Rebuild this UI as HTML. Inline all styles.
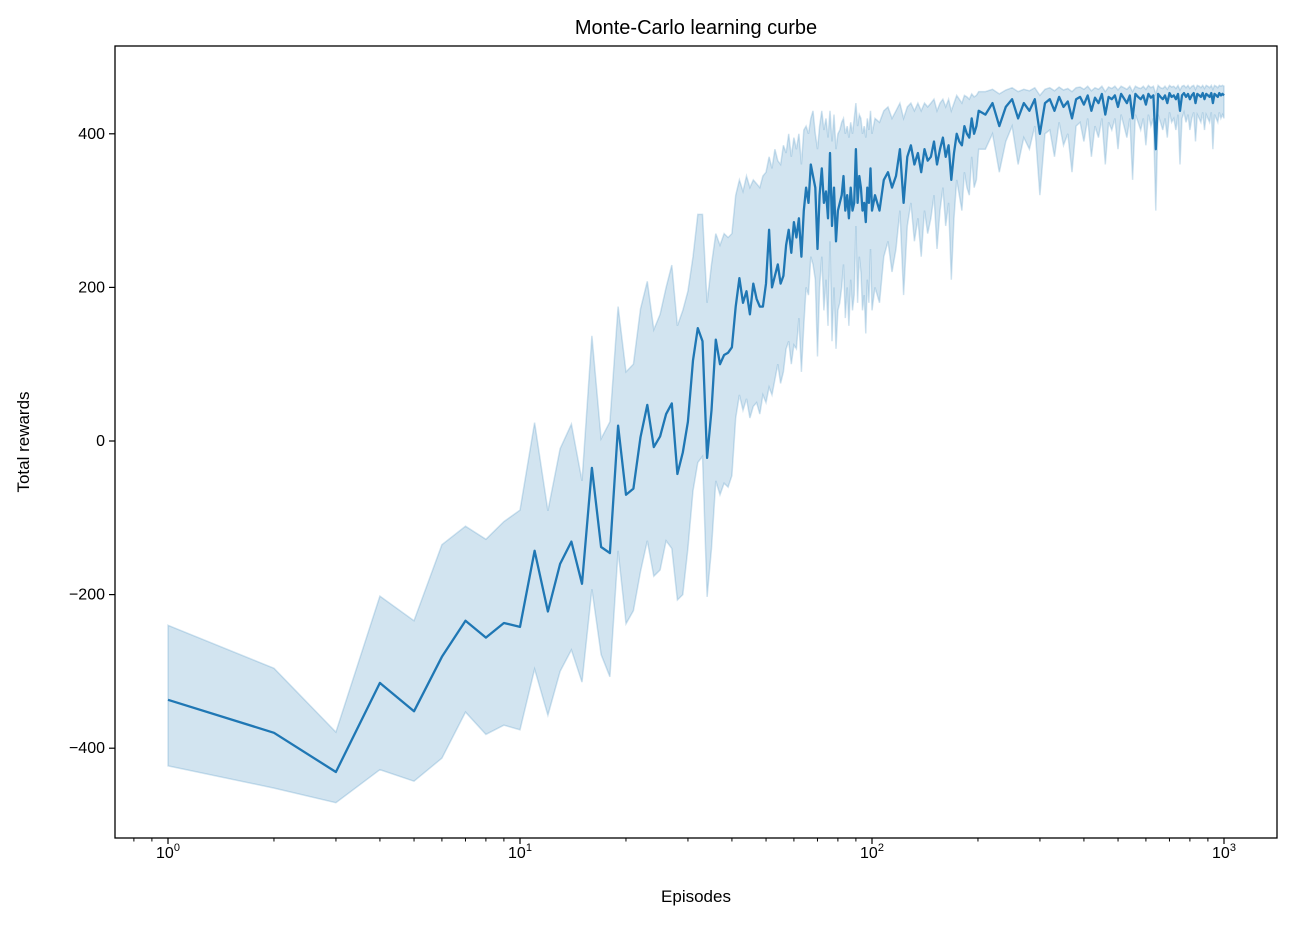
<!DOCTYPE html>
<html><head><meta charset="utf-8"><style>
html,body{margin:0;padding:0;background:#fff;}
svg text{font-family:"Liberation Sans","DejaVu Sans",sans-serif;fill:#000;}
</style></head><body>
<svg id="chart" width="1292" height="922" xmlns="http://www.w3.org/2000/svg">
<rect x="0" y="0" width="1292" height="922" fill="#fff"/>
<text x="696" y="34" font-size="20" text-anchor="middle">Monte-Carlo learning curbe</text>
<g id="band"></g>
<g id="line"></g>
<g id="axes"></g>
<text x="696" y="902" font-size="17" text-anchor="middle">Episodes</text>
<text x="0" y="0" font-size="17" text-anchor="middle" transform="translate(29,442) rotate(-90)">Total rewards</text>
</svg>
<script>
const meanEarly=[-337,-380,-431,-315,-352,-281,-234,-256,-237,-242,-143,-222,-160,-131,-186,-35,-138,-146,20,-70,-62,5,47,-8,6,35,49,-43,-15,25,105,147,130,-22,40,132,100,112,115,122,175,212,180,195,165,205,185,175,175,205,275,200,215,230,205,215,255,275,245,285];
const hiEarly=[-240,-296,-379,-202,-234,-135,-111,-128,-105,-90,24,-91,-10,22,-52,137,3,25,175,90,100,172,208,145,165,200,229,150,170,195,240,295,295,180,230,270,255,270,265,270,320,340,325,345,330,340,335,330,345,350,370,355,380,365,360,385,375,400,370,395];
const loEarly=[-423,-452,-471,-428,-443,-413,-353,-382,-370,-376,-297,-357,-300,-272,-314,-193,-278,-307,-143,-238,-221,-170,-130,-176,-168,-130,-140,-207,-200,-140,-65,-28,-20,-203,-140,-52,-70,-55,-60,-45,30,60,40,55,30,45,50,35,60,50,70,60,80,100,75,90,120,130,100,125];
const meanMid=[265,290,240,300,330,310,360,345,330,250,320,355,310,325,290,375,280,330,260,300,310,320,345,300,320,290,330,300,310,380,310,345,330,300,310,285,330,310,355,300];
const hiMid=[380,400,360,405,410,400,420,430,400,380,410,430,405,420,395,430,390,425,380,400,405,415,420,400,410,395,415,400,420,440,410,425,420,400,410,395,420,405,430,400];
const loMid=[120,160,90,150,200,190,240,230,210,110,200,240,170,210,150,260,130,200,120,170,180,200,230,160,200,150,210,170,190,280,180,240,220,170,190,140,210,180,250,170];
const meanLate1=[320,300,340,350,330,345,380,310,370,385,360,375,350,380,365,370,390,360,380,395,370,385,340,375,400,390,385,410,400,395,420,400,410,430];
const hiLate1=[420,415,430,435,420,430,440,420,435,440,430,440,430,440,435,440,445,430,440,445,435,445,430,440,450,445,440,450,448,445,452,448,450,455];
const loLate1=[200,180,240,260,220,250,300,190,280,310,260,290,240,300,270,290,320,250,300,330,280,310,210,290,340,320,300,350,330,320,370,330,340,380];
const meanLate2=[425,440,410,435,445,420,440,430,445,400,440,445,430,448,435,442,420,445,448,438,450,430,447,440,452,425,448,445,450,435,452,446,440,450,420,452,448,445,450,438,452,447,450,380,452,448,445,450,440,453,448,450,445,452,430,450,453,448,452,445,450,453,440,452,450,448,453,445,452,450,448,453,440,452,450,448,453,450,452,450];
const hiLate2=[455,458,452,457,460,455,458,456,460,450,458,460,456,461,457,459,455,460,461,458,462,456,460,458,462,455,461,459,462,457,462,460,458,462,455,462,460,459,462,458,463,460,462,452,463,460,459,462,458,463,461,462,459,463,457,462,463,460,463,459,462,463,458,463,462,460,463,459,463,462,460,463,458,463,462,460,463,462,463,462];
const loLate2=[380,400,350,390,410,360,395,380,410,320,400,405,370,415,385,400,350,410,415,390,420,370,410,395,420,360,415,405,420,380,425,410,395,420,340,425,415,405,420,385,425,410,420,300,425,415,405,420,395,428,415,420,405,425,360,420,428,415,425,405,420,428,390,425,420,415,428,405,425,420,415,428,380,425,420,415,428,420,425,420];
const yTicks=[-400,-200,0,200,400];
const xTickExps=[0,1,2,3];

const episodes=[],mean=[],hi=[],lo=[];
function add(eps,m,h,l){const n=Math.min(eps.length,m.length,h.length,l.length);for(let i=0;i<n;i++){episodes.push(eps[i]);mean.push(m[i]);hi.push(h[i]);lo.push(l[i]);}}
const e1=[];for(let i=1;i<=60;i++)e1.push(i);
const e2=[];for(let i=61;i<=100;i++)e2.push(i);
const e3=[];for(let i=102;i<=201;i+=3)e3.push(i);
const e4=[];for(let i=210;i<=1000;i+=10)e4.push(i);
add(e1,meanEarly,hiEarly,loEarly);add(e2,meanMid,hiMid,loMid);add(e3,meanLate1,hiLate1,loLate1);add(e4,meanLate2,hiLate2,loLate2);

const L=115,R=1277,T=46,B=838;
const xs=v=>168+Math.log10(v)*352;
const ys=v=>441-v*0.768;
const NS='http://www.w3.org/2000/svg';
function mk(tag,attrs,parent){const e=document.createElementNS(NS,tag);for(const k in attrs)e.setAttribute(k,attrs[k]);parent.appendChild(e);return e;}

let d='';
episodes.forEach((e,i)=>{d+=(i?'L':'M')+xs(e).toFixed(1)+','+ys(hi[i]).toFixed(1);});
for(let i=episodes.length-1;i>=0;i--)d+='L'+xs(episodes[i]).toFixed(1)+','+ys(lo[i]).toFixed(1);
d+='Z';
const band=mk('path',{d:d,fill:'#1f77b4','fill-opacity':'0.2',stroke:'#1f77b4','stroke-opacity':'0.2','stroke-width':'1.5'},document.getElementById('band'));



let dl='';
episodes.forEach((e,i)=>{dl+=(i?'L':'M')+xs(e).toFixed(1)+','+ys(mean[i]).toFixed(1);});
const line=mk('path',{d:dl,fill:'none',stroke:'#1f77b4','stroke-width':'2.3','stroke-linejoin':'round'},document.getElementById('line'));



const ax=document.getElementById('axes');
const frame=mk('rect',{x:L,y:T,width:R-L,height:B-T,fill:'none',stroke:'#000','stroke-width':'1.3'},ax);



yTicks.forEach(v=>{
  const y=ys(v);
  const t=mk('line',{x1:L,x2:L-6,y1:y,y2:y,stroke:'#000','stroke-width':'1.2'},ax);
  
  
  const tx=mk('text',{x:L-10,y:y+5,'font-size':'16','text-anchor':'end'},ax);
  tx.textContent=(v<0?'\u2212':'')+Math.abs(v);
  
  
});
xTickExps.forEach(p=>{
  const x=xs(Math.pow(10,p));
  const t=mk('line',{x1:x,x2:x,y1:B,y2:B+6,stroke:'#000','stroke-width':'1.2'},ax);
  
  
  const tx=mk('text',{x:x,y:B+20,'font-size':'16','text-anchor':'middle'},ax);
  tx.textContent='10';
  const sup=mk('tspan',{dy:'-7','font-size':'11'},tx);
  sup.textContent=String(p);
  
  
});
for(let p=-1;p<=3;p++){for(let k=2;k<=9;k++){
  const x=xs(k*Math.pow(10,p));
  if(x<L||x>R)continue;
  const t=mk('line',{x1:x,x2:x,y1:B,y2:B+3.5,stroke:'#000','stroke-width':'1'},ax);
  
  
}}
</script>
</body></html>
